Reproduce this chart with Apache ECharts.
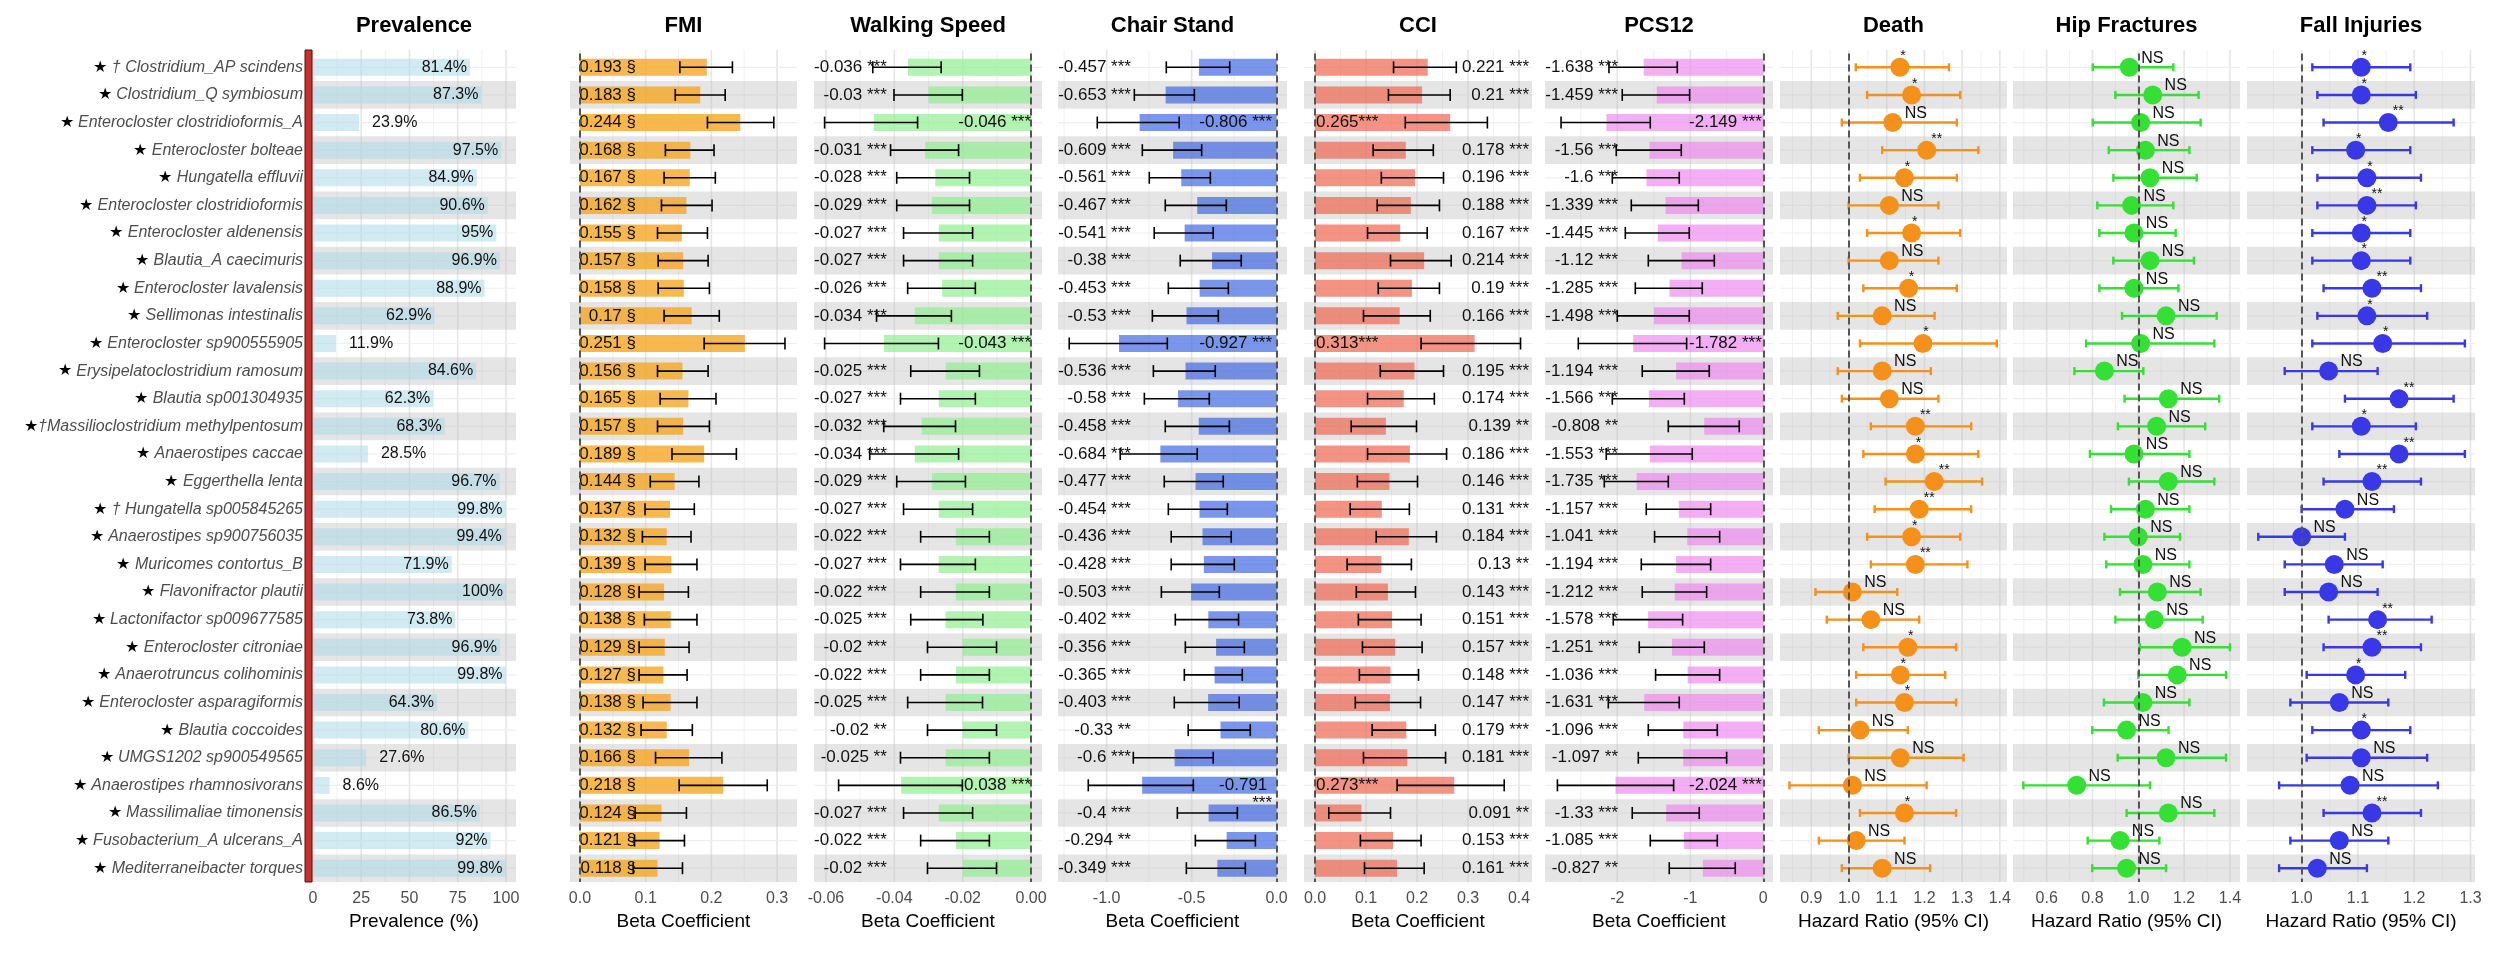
<!DOCTYPE html>
<html>
<head>
<meta charset="utf-8">
<title>Species associations</title>
<script src="https://cdn.jsdelivr.net/npm/echarts@6.0.0/dist/echarts.min.js"></script>
<style>
    html, body { margin: 0; padding: 0; background: #fff; }
    #chart { width: 2516px; height: 956px; }
</style>
</head>
<body>
<div id="chart"></div>
<script>
var FONT = '"Liberation Sans", Arial, Helvetica, sans-serif';

/* 物种 (从上到下) */
var species = [
    '★ † Clostridium_AP scindens', '★ Clostridium_Q symbiosum', '★ Enterocloster clostridioformis_A',
    '★ Enterocloster bolteae', '★ Hungatella effluvii', '★ Enterocloster clostridioformis',
    '★ Enterocloster aldenensis', '★ Blautia_A caecimuris', '★ Enterocloster lavalensis',
    '★ Sellimonas intestinalis', '★ Enterocloster sp900555905', '★ Erysipelatoclostridium ramosum',
    '★ Blautia sp001304935', '★†Massilioclostridium methylpentosum', '★ Anaerostipes caccae',
    '★ Eggerthella lenta', '★ † Hungatella sp005845265', '★ Anaerostipes sp900756035',
    '★ Muricomes contortus_B', '★ Flavonifractor plautii', '★ Lactonifactor sp009677585',
    '★ Enterocloster citroniae', '★ Anaerotruncus colihominis', '★ Enterocloster asparagiformis',
    '★ Blautia coccoides', '★ UMGS1202 sp900549565', '★ Anaerostipes rhamnosivorans',
    '★ Massilimaliae timonensis', '★ Fusobacterium_A ulcerans_A', '★ Mediterraneibacter torques'
];

var prevalence = [81.4, 87.3, 23.9, 97.5, 84.9, 90.6, 95, 96.9, 88.9, 62.9, 11.9, 84.6, 62.3, 68.3, 28.5,
    96.7, 99.8, 99.4, 71.9, 100, 73.8, 96.9, 99.8, 64.3, 80.6, 27.6, 8.6, 86.5, 92, 99.8];

var fmiBeta = [0.193, 0.183, 0.244, 0.168, 0.167, 0.162, 0.155, 0.157, 0.158, 0.17, 0.251, 0.156, 0.165, 0.157, 0.189,
    0.144, 0.137, 0.132, 0.139, 0.128, 0.138, 0.129, 0.127, 0.138, 0.132, 0.166, 0.218, 0.124, 0.121, 0.118];
var fmiLow = [0.152, 0.145, 0.194, 0.130, 0.128, 0.124, 0.118, 0.119, 0.119, 0.128, 0.189, 0.118, 0.122, 0.118, 0.140,
    0.107, 0.099, 0.095, 0.099, 0.090, 0.098, 0.090, 0.090, 0.096, 0.093, 0.115, 0.151, 0.084, 0.083, 0.081];
var fmiHigh = [0.232, 0.221, 0.295, 0.204, 0.206, 0.201, 0.194, 0.195, 0.197, 0.212, 0.312, 0.195, 0.207, 0.197, 0.238,
    0.181, 0.174, 0.169, 0.178, 0.165, 0.178, 0.166, 0.163, 0.178, 0.171, 0.216, 0.285, 0.162, 0.159, 0.156];

var walkBeta = [-0.036, -0.03, -0.046, -0.031, -0.028, -0.029, -0.027, -0.027, -0.026, -0.034, -0.043, -0.025, -0.027, -0.032, -0.034,
    -0.029, -0.027, -0.022, -0.027, -0.022, -0.025, -0.02, -0.022, -0.025, -0.02, -0.025, -0.038, -0.027, -0.022, -0.02];
var walkLow = [-0.0463, -0.0401, -0.0604, -0.0411, -0.0393, -0.0393, -0.0373, -0.0373, -0.0361, -0.0452, -0.0604, -0.0352, -0.0382, -0.0431, -0.0472,
    -0.0393, -0.0373, -0.0323, -0.0382, -0.0323, -0.0352, -0.0303, -0.0323, -0.0361, -0.0303, -0.0382, -0.0563, -0.0373, -0.0323, -0.0303];
var walkHigh = [-0.0263, -0.0201, -0.0332, -0.0212, -0.018, -0.018, -0.0171, -0.0171, -0.0163, -0.0233, -0.0271, -0.0151, -0.0163, -0.0221, -0.0212,
    -0.0192, -0.0171, -0.0122, -0.0163, -0.0122, -0.0141, -0.0101, -0.0122, -0.0142, -0.0101, -0.0122, -0.0201, -0.0171, -0.0122, -0.0101];
var walkStars = ['***', '***', '***', '***', '***', '***', '***', '***', '***', '***', '***', '***', '***', '***', '***',
    '***', '***', '***', '***', '***', '***', '***', '***', '***', '**', '**', '***', '***', '***', '***'];

var chairBeta = [-0.457, -0.653, -0.806, -0.609, -0.561, -0.467, -0.541, -0.38, -0.453, -0.53, -0.927, -0.536, -0.58, -0.458, -0.684,
    -0.477, -0.454, -0.436, -0.428, -0.503, -0.402, -0.356, -0.365, -0.403, -0.33, -0.6, -0.791, -0.4, -0.294, -0.349];
var chairLow = [-0.649, -0.837, -1.055, -0.790, -0.749, -0.655, -0.720, -0.567, -0.637, -0.731, -1.220, -0.725, -0.778, -0.655, -0.920,
    -0.661, -0.637, -0.620, -0.620, -0.678, -0.596, -0.537, -0.543, -0.602, -0.520, -0.843, -1.108, -0.584, -0.478, -0.531];
var chairHigh = [-0.276, -0.484, -0.573, -0.441, -0.390, -0.296, -0.373, -0.208, -0.284, -0.343, -0.643, -0.361, -0.396, -0.278, -0.467,
    -0.314, -0.290, -0.267, -0.249, -0.337, -0.224, -0.190, -0.202, -0.220, -0.155, -0.373, -0.490, -0.231, -0.125, -0.184];
// 第27行的星号在原图中换到了下一行
var chairStars = ['***', '***', '***', '***', '***', '***', '***', '***', '***', '***', '***', '***', '***', '***', '***',
    '***', '***', '***', '***', '***', '***', '***', '***', '***', '**', '***', '\n***', '***', '**', '***'];

var cciBeta = [0.221, 0.21, 0.265, 0.178, 0.196, 0.188, 0.167, 0.214, 0.19, 0.166, 0.313, 0.195, 0.174, 0.139, 0.186,
    0.146, 0.131, 0.184, 0.13, 0.143, 0.151, 0.157, 0.148, 0.147, 0.179, 0.181, 0.273, 0.091, 0.153, 0.161];
var cciLow = [0.154, 0.144, 0.177, 0.114, 0.130, 0.122, 0.103, 0.148, 0.124, 0.095, 0.208, 0.128, 0.103, 0.071, 0.103,
    0.083, 0.069, 0.120, 0.063, 0.081, 0.085, 0.093, 0.087, 0.079, 0.112, 0.095, 0.161, 0.027, 0.089, 0.097];
var cciHigh = [0.277, 0.265, 0.338, 0.232, 0.252, 0.244, 0.220, 0.267, 0.244, 0.226, 0.403, 0.252, 0.234, 0.199, 0.258,
    0.201, 0.185, 0.238, 0.189, 0.197, 0.208, 0.210, 0.203, 0.207, 0.236, 0.256, 0.371, 0.148, 0.208, 0.214];
var cciStars = ['***', '***', '***', '***', '***', '***', '***', '***', '***', '***', '***', '***', '***', '**', '***',
    '***', '***', '***', '**', '***', '***', '***', '***', '***', '***', '***', '***', '**', '***', '***'];

var pcsBeta = [-1.638, -1.459, -2.149, -1.56, -1.6, -1.339, -1.445, -1.12, -1.285, -1.498, -1.782, -1.194, -1.566, -0.808, -1.553,
    -1.735, -1.157, -1.041, -1.194, -1.212, -1.578, -1.251, -1.036, -1.631, -1.096, -1.097, -2.024, -1.33, -1.085, -0.827];
var pcsLow = [-2.114, -1.932, -2.77, -2.014, -2.068, -1.808, -1.890, -1.575, -1.753, -2.0, -2.534, -1.658, -2.068, -1.301, -2.151,
    -2.178, -1.603, -1.489, -1.671, -1.658, -2.055, -1.699, -1.475, -2.123, -1.575, -1.712, -2.82, -1.795, -1.548, -1.288];
var pcsHigh = [-1.178, -1.009, -1.548, -1.123, -1.151, -0.890, -1.014, -0.671, -0.836, -1.014, -1.050, -0.740, -1.082, -0.329, -0.973,
    -1.301, -0.721, -0.598, -0.721, -0.776, -1.105, -0.808, -0.598, -1.151, -0.630, -0.502, -1.228, -0.877, -0.630, -0.384];
var pcsStars = ['***', '***', '***', '***', '***', '***', '***', '***', '***', '***', '***', '***', '***', '**', '***',
    '***', '***', '***', '***', '***', '***', '***', '***', '***', '***', '**', '***', '***', '***', '**'];

var deathHR = [1.135, 1.166, 1.116, 1.206, 1.147, 1.107, 1.166, 1.107, 1.158, 1.088, 1.196, 1.088, 1.107, 1.176, 1.176,
    1.226, 1.186, 1.166, 1.176, 1.009, 1.058, 1.156, 1.136, 1.147, 1.029, 1.136, 1.009, 1.147, 1.019, 1.088];
var deathLow = [1.018, 1.048, 0.981, 1.088, 1.029, 0.999, 1.048, 0.999, 1.038, 0.970, 1.029, 0.970, 0.981, 1.058, 1.038,
    1.097, 1.068, 1.048, 1.058, 0.911, 0.941, 1.038, 1.019, 1.019, 0.920, 0.999, 0.842, 1.029, 0.920, 0.981];
var deathHigh = [1.265, 1.295, 1.286, 1.343, 1.286, 1.237, 1.295, 1.237, 1.286, 1.227, 1.392, 1.217, 1.237, 1.324, 1.343,
    1.353, 1.324, 1.295, 1.314, 1.128, 1.186, 1.284, 1.255, 1.284, 1.156, 1.304, 1.206, 1.284, 1.147, 1.215];
var deathSig = ['*', '*', 'NS', '**', '*', 'NS', '*', 'NS', '*', 'NS', '*', 'NS', 'NS', '**', '*',
    '**', '**', '*', '**', 'NS', 'NS', '*', '*', '*', 'NS', 'NS', 'NS', '*', 'NS', 'NS'];

var hipHR = [0.961, 1.063, 1.010, 1.031, 1.051, 0.971, 0.981, 1.051, 0.981, 1.121, 1.010, 0.852, 1.131, 1.080, 0.981,
    1.131, 1.031, 1.000, 1.020, 1.083, 1.070, 1.191, 1.170, 1.020, 0.949, 1.121, 0.731, 1.131, 0.920, 0.949];
var hipLow = [0.801, 0.900, 0.801, 0.871, 0.891, 0.821, 0.830, 0.891, 0.830, 0.929, 0.772, 0.721, 0.940, 0.911, 0.789,
    0.959, 0.881, 0.852, 0.860, 0.920, 0.900, 1.007, 1.000, 0.850, 0.799, 0.910, 0.498, 0.949, 0.779, 0.799];
var hipHigh = [1.153, 1.263, 1.272, 1.223, 1.255, 1.153, 1.163, 1.243, 1.175, 1.342, 1.332, 1.022, 1.353, 1.292, 1.223,
    1.332, 1.223, 1.182, 1.223, 1.272, 1.281, 1.400, 1.383, 1.223, 1.132, 1.383, 1.051, 1.332, 1.092, 1.121];
var hipSig = ['NS', 'NS', 'NS', 'NS', 'NS', 'NS', 'NS', 'NS', 'NS', 'NS', 'NS', 'NS', 'NS', 'NS', 'NS',
    'NS', 'NS', 'NS', 'NS', 'NS', 'NS', 'NS', 'NS', 'NS', 'NS', 'NS', 'NS', 'NS', 'NS', 'NS'];

var fallHR = [1.106, 1.106, 1.154, 1.096, 1.116, 1.116, 1.106, 1.106, 1.125, 1.116, 1.144, 1.048, 1.173, 1.106, 1.173,
    1.125, 1.077, 1.000, 1.058, 1.048, 1.135, 1.125, 1.096, 1.067, 1.106, 1.106, 1.086, 1.125, 1.067, 1.028];
var fallLow = [1.019, 1.028, 1.039, 1.019, 1.028, 1.028, 1.019, 1.019, 1.039, 1.028, 1.019, 0.970, 1.077, 1.019, 1.067,
    1.039, 1.000, 0.923, 0.970, 0.970, 1.048, 1.039, 1.009, 0.980, 1.019, 1.009, 0.960, 1.039, 0.980, 0.960];
var fallHigh = [1.193, 1.203, 1.270, 1.193, 1.212, 1.203, 1.193, 1.193, 1.212, 1.223, 1.290, 1.135, 1.270, 1.203, 1.290,
    1.212, 1.164, 1.077, 1.144, 1.135, 1.231, 1.212, 1.184, 1.154, 1.193, 1.223, 1.242, 1.212, 1.154, 1.116];
var fallSig = ['*', '*', '**', '*', '*', '**', '*', '*', '**', '*', '*', 'NS', '**', '*', '**',
    '**', 'NS', 'NS', 'NS', 'NS', '**', '**', '*', 'NS', '*', 'NS', 'NS', '**', 'NS', 'NS'];

/* 刻度 */
var prevTicks = [0, 25, 50, 75, 100];
var fmiTicks = [0, 0.1, 0.2, 0.3];
var walkTicks = [-0.06, -0.04, -0.02, 0];
var chairTicks = [-1, -0.5, 0];
var cciTicks = [0, 0.1, 0.2, 0.3, 0.4];
var pcsTicks = [-2, -1, 0];
var deathTicks = [0.9, 1.0, 1.1, 1.2, 1.3, 1.4];
var hipTicks = [0.6, 0.8, 1.0, 1.2, 1.4];
var fallTicks = [1.0, 1.1, 1.2, 1.3];

var GRID_TOP = 53.5, GRID_H = 828.5;

var panels = [
    {title: 'Prevalence', left: 312, width: 204, min: -0.5, max: 105.2, ticks: prevTicks, dec: 0, name: 'Prevalence (%)'},
    {title: 'FMI', left: 570, width: 227, min: -0.0152, max: 0.3303, ticks: fmiTicks, dec: 1, name: 'Beta Coefficient', ref: 0},
    {title: 'Walking Speed', left: 814, width: 228, min: -0.0635, max: 0.0032, ticks: walkTicks, dec: 2, name: 'Beta Coefficient', ref: 0},
    {title: 'Chair Stand', left: 1058, width: 229, min: -1.286, max: 0.061, ticks: chairTicks, dec: 1, name: 'Beta Coefficient', ref: 0},
    {title: 'CCI', left: 1304, width: 228, min: -0.0216, max: 0.4255, ticks: cciTicks, dec: 1, name: 'Beta Coefficient', ref: 0},
    {title: 'PCS12', left: 1545, width: 228, min: -2.99, max: 0.133, ticks: pcsTicks, dec: 0, name: 'Beta Coefficient', ref: 0},
    {title: 'Death', left: 1780, width: 227, min: 0.817, max: 1.419, ticks: deathTicks, dec: 1, name: 'Hazard Ratio (95% CI)', ref: 1},
    {title: 'Hip Fractures', left: 2013, width: 227, min: 0.453, max: 1.444, ticks: hipTicks, dec: 1, name: 'Hazard Ratio (95% CI)', ref: 1},
    {title: 'Fall Injuries', left: 2247, width: 228, min: 0.903, max: 1.308, ticks: fallTicks, dec: 1, name: 'Hazard Ratio (95% CI)', ref: 1}
];

function halfSteps(ticks, min, max) {
    var step = (ticks[1] - ticks[0]) / 2;
    var out = [];
    for (var k = Math.ceil(min / step - 1e-6); k * step <= max + 1e-9; k++) {
        var v = k * step;
        var isMajor = false;
        for (var j = 0; j < ticks.length; j++) {
            if (Math.abs(ticks[j] - v) < 1e-9) isMajor = true;
        }
        out.push([v, 0, isMajor ? 1 : 0]);
    }
    return out;
}

function gridLineSeries(idx, p) {
    return {
        type: 'custom', xAxisIndex: idx, yAxisIndex: idx, z: 0, silent: true,
        data: halfSteps(p.ticks, p.min, p.max),
        renderItem: function (params, api) {
            var cs = params.coordSys;
            var x = api.coord([api.value(0), 0])[0];
            var major = api.value(2) === 1;
            return {
                type: 'line',
                shape: {x1: x, y1: cs.y - 3.5, x2: x, y2: cs.y + cs.height},
                style: {stroke: major ? '#e6e6e6' : '#f2f2f2', lineWidth: major ? 1.6 : 1}
            };
        }
    };
}

function bandSeries(idx, p) {
    return {
        type: 'custom', xAxisIndex: idx, yAxisIndex: idx, z: 1, silent: true,
        data: species.map(function (s, i) { return [p.min, i]; }),
        renderItem: function (params, api) {
            var cs = params.coordSys;
            var i = api.value(1);
            var y = api.coord([p.min, i])[1];
            var h = api.size([0, 1])[1];
            var children = [{
                type: 'line',
                shape: {x1: cs.x, y1: y, x2: cs.x + cs.width, y2: y},
                style: {stroke: '#efefef', lineWidth: 1.2}
            }];
            if (i % 2 === 1) {
                children.push({
                    type: 'rect',
                    shape: {x: cs.x, y: y - h / 2, width: cs.width, height: h},
                    style: {fill: 'rgba(190,190,190,0.4)'}
                });
            }
            return {type: 'group', children: children};
        }
    };
}

function errorSeries(idx, p, low, high, color, lw, cap) {
    var s = {
        type: 'custom', xAxisIndex: idx, yAxisIndex: idx, z: 3, silent: true,
        data: low.map(function (v, i) { return [v, i, high[i]]; }),
        renderItem: function (params, api) {
            var a = api.coord([api.value(0), api.value(1)]);
            var b = api.coord([api.value(2), api.value(1)]);
            var st = {stroke: color, lineWidth: lw};
            return {
                type: 'group', children: [
                    {type: 'line', shape: {x1: a[0], y1: a[1], x2: b[0], y2: b[1]}, style: st},
                    {type: 'line', shape: {x1: a[0], y1: a[1] - cap, x2: a[0], y2: a[1] + cap}, style: st},
                    {type: 'line', shape: {x1: b[0], y1: b[1] - cap, x2: b[0], y2: b[1] + cap}, style: st}
                ]
            };
        }
    };
    if (p.ref !== undefined) {
        s.markLine = {
            silent: true, symbol: 'none', label: {show: false},
            lineStyle: {type: [7, 4], color: '#555', width: 2},
            data: [{xAxis: p.ref}]
        };
    }
    return s;
}

function textSeries(idx, specs, fontSize, z) {
    return {
        type: 'custom', xAxisIndex: idx, yAxisIndex: idx, z: z || 4, silent: true,
        data: specs.map(function (s, i) { return [s.x, i]; }),
        renderItem: function (params, api) {
            var sp = specs[params.dataIndex];
            var pt = api.coord([api.value(0), api.value(1)]);
            var size = sp.size || fontSize;
            var wrapped = sp.text.indexOf('\n') >= 0;
            return {
                type: 'text',
                x: pt[0] + (sp.dx || 0),
                y: pt[1] + (sp.dy || 0) - (wrapped ? size / 2 + 1 : 0),
                style: {
                    text: sp.text, fill: '#111', align: sp.align,
                    verticalAlign: wrapped ? 'top' : 'middle',
                    lineHeight: size + 1,
                    font: size + 'px ' + FONT
                }
            };
        }
    };
}

function barSeries(idx, values, color) {
    return {
        type: 'bar', xAxisIndex: idx, yAxisIndex: idx, z: 2, silent: true,
        data: values, barWidth: 17, itemStyle: {color: color}
    };
}

function pointSeries(idx, hr, color) {
    return {
        type: 'scatter', xAxisIndex: idx, yAxisIndex: idx, z: 4, silent: true,
        data: hr.map(function (v, i) { return [v, i]; }),
        symbolSize: 19, itemStyle: {color: color, opacity: 1}
    };
}

var sigOffset = {'*': [3, -11, 14], '**': [10, -11, 14], '***': [14, -11, 14], 'NS': [23, -9, 16]};

function sigSpecs(hr, sig) {
    return hr.map(function (v, i) {
        var o = sigOffset[sig[i]];
        return {x: v, text: sig[i], align: 'center', dx: o[0], dy: o[1], size: o[2]};
    });
}

/* 数值标签 */
var prevSpecs = prevalence.map(function (v) {
    return v >= 40 ? {x: v, text: v + '%', align: 'right', dx: -3} : {x: v, text: v + '%', align: 'left', dx: 13};
});
var fmiSpecs = fmiBeta.map(function (v) { return {x: 0.0852, text: v + ' §', align: 'right'}; });
var walkSpecs = walkBeta.map(function (v, i) {
    var big = Math.abs(v) > 0.037;
    return {x: big ? 0 : -0.0422, text: v + ' ' + walkStars[i], align: 'right'};
});
var chairSpecs = chairBeta.map(function (v, i) {
    var big = Math.abs(v) > 0.75;
    return {x: big ? -0.027 : -0.857, text: v + ' ' + chairStars[i], align: 'right'};
});
var cciSpecs = cciBeta.map(function (v, i) {
    var big = v > 0.26;
    return big ? {x: 0.002, text: v + cciStars[i], align: 'left'} : {x: 0.4196, text: v + ' ' + cciStars[i], align: 'right'};
});
var pcsSpecs = pcsBeta.map(function (v, i) {
    var big = Math.abs(v) > 1.75;
    return {x: big ? -0.02 : -1.99, text: v + ' ' + pcsStars[i], align: 'right'};
});

var grids = [], xAxes = [], yAxes = [], titles = [], series = [];
panels.forEach(function (p, idx) {
    grids.push({left: p.left, top: GRID_TOP, width: p.width, height: GRID_H});
    xAxes.push({
        gridIndex: idx, type: 'value', min: p.min, max: p.max,
        axisLine: {show: false}, axisTick: {show: false}, splitLine: {show: false},
        axisLabel: {
            customValues: p.ticks, color: '#4d4d4d', fontSize: 16, margin: 9, fontFamily: FONT,
            formatter: function (v) { return (Math.abs(v) < 1e-9 ? 0 : v).toFixed(p.dec); }
        },
        name: p.name, nameLocation: 'middle', nameGap: 30,
        nameTextStyle: {color: '#000', fontSize: 19, fontFamily: FONT}
    });
    yAxes.push({
        gridIndex: idx, type: 'category', inverse: true, data: species,
        axisLine: {show: false}, axisTick: {show: false}, splitLine: {show: false},
        axisLabel: idx === 0 ? {
            show: true, interval: 0, margin: 9,
            formatter: function (v) { return '{s|' + v.charAt(0) + '}{n|' + v.slice(1) + '}'; },
            rich: {
                s: {color: '#000', fontSize: 16, fontFamily: FONT},
                n: {color: '#4d4d4d', fontSize: 16, fontStyle: 'italic', fontFamily: FONT}
            }
        } : {show: false}
    });
    titles.push({
        text: p.title, left: p.left + p.width / 2, top: 15, textAlign: 'center', padding: 0,
        textStyle: {fontSize: 22, fontWeight: 'bold', color: '#000', fontFamily: FONT}
    });
    series.push(gridLineSeries(idx, p));
    series.push(bandSeries(idx, p));
});

series.push(barSeries(0, prevalence, 'rgba(173,216,230,0.55)'));
series.push(textSeries(0, prevSpecs, 16));

series.push(barSeries(1, fmiBeta, 'rgba(245,166,35,0.8)'));
series.push(errorSeries(1, panels[1], fmiLow, fmiHigh, '#000', 1.6, 6));
series.push(textSeries(1, fmiSpecs, 17));

series.push(barSeries(2, walkBeta, 'rgba(144,238,144,0.7)'));
series.push(errorSeries(2, panels[2], walkLow, walkHigh, '#000', 1.6, 6));
series.push(textSeries(2, walkSpecs, 17));

series.push(barSeries(3, chairBeta, 'rgba(65,105,225,0.7)'));
series.push(errorSeries(3, panels[3], chairLow, chairHigh, '#000', 1.6, 6));
series.push(textSeries(3, chairSpecs, 17));

series.push(barSeries(4, cciBeta, 'rgba(238,105,85,0.72)'));
series.push(errorSeries(4, panels[4], cciLow, cciHigh, '#000', 1.6, 6));
series.push(textSeries(4, cciSpecs, 17));

series.push(barSeries(5, pcsBeta, 'rgba(238,130,238,0.65)'));
series.push(errorSeries(5, panels[5], pcsLow, pcsHigh, '#000', 1.6, 6));
series.push(textSeries(5, pcsSpecs, 17));

series.push(errorSeries(6, panels[6], deathLow, deathHigh, '#F5901A', 2.4, 4));
series.push(pointSeries(6, deathHR, '#F5901A'));
series.push(textSeries(6, sigSpecs(deathHR, deathSig), 15, 5));

series.push(errorSeries(7, panels[7], hipLow, hipHigh, '#33E033', 2.4, 4));
series.push(pointSeries(7, hipHR, '#33E033'));
series.push(textSeries(7, sigSpecs(hipHR, hipSig), 15, 5));

series.push(errorSeries(8, panels[8], fallLow, fallHigh, '#3838E6', 2.4, 4));
series.push(pointSeries(8, fallHR, '#3838E6'));
series.push(textSeries(8, sigSpecs(fallHR, fallSig), 15, 5));

var chart = echarts.init(document.getElementById('chart'));
chart.setOption({
    backgroundColor: '#fff',
    animation: false,
    textStyle: {fontFamily: FONT},
    title: titles,
    grid: grids,
    xAxis: xAxes,
    yAxis: yAxes,
    series: series,
    graphic: [{
        type: 'rect', z: 100, silent: true,
        shape: {x: 305, y: 50, width: 7, height: 832},
        style: {fill: '#C8312B', stroke: '#4a1512', lineWidth: 1}
    }]
});
</script>
</body>
</html>
